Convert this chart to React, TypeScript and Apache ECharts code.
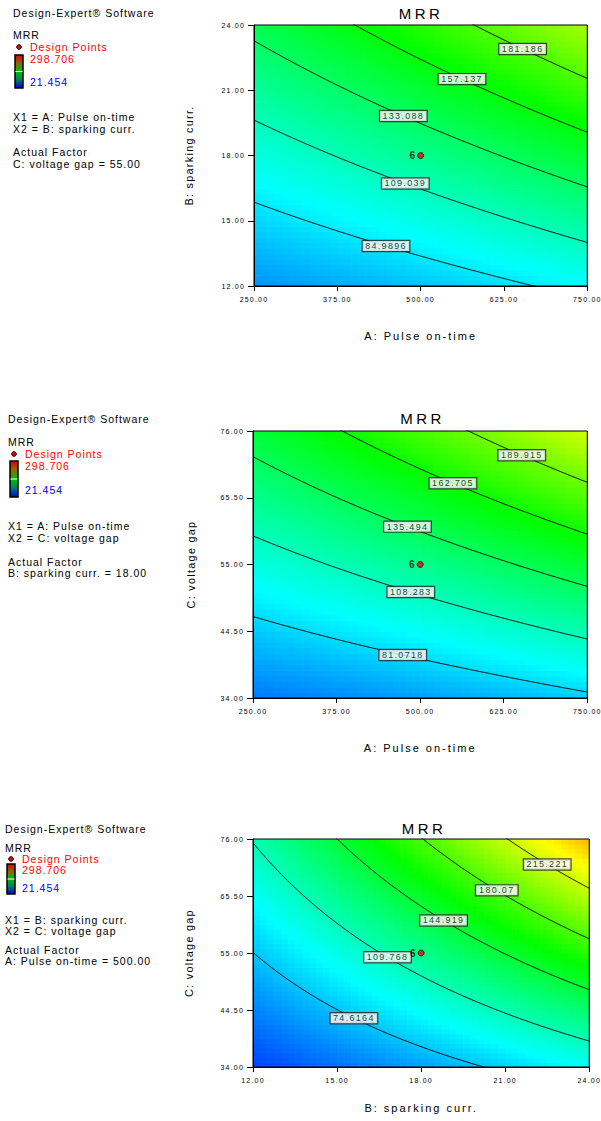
import React, { useEffect, useRef } from "react";
import * as echarts from "echarts";

const FONT = "'Liberation Sans', Arial, Helvetica, sans-serif";

const RESPONSE = "MRR";
const RESPONSE_MIN = 21.454;
const RESPONSE_MAX = 298.706;

const FACTOR_LABELS = ["A: Pulse on-time", "B: sparking curr.", "C: voltage gap"];
const FACTOR_CENTER = [500, 18, 55];
const FACTOR_HALF = [250, 6, 21];
const TICKS_A = [250, 375, 500, 625, 750];
const TICKS_B = [12, 15, 18, 21, 24];
const TICKS_C = [34, 44.5, 55, 65.5, 76];
const TICKS = [TICKS_A, TICKS_B, TICKS_C];

// Quadratic model in coded factors; terms: 1, A, B, C, AB, AC, BC, A², B², C²
const MODEL_TERMS = ["1", "A", "B", "C", "AB", "AC", "BC", "A^2", "B^2", "C^2"];
const MODEL_COEFS = [121.275, 24.149, 47.9, 57.341, 9.558, 12.173, 21.455, 1.438, 1.054, 0.699];

const LEVELS_AB = [84.9896, 109.039, 133.088, 157.137, 181.186];
const LEVELS_AC = [81.0718, 108.283, 135.494, 162.705, 189.915];
const LEVELS_BC = [74.6164, 109.768, 144.919, 180.07, 215.221];

const LABEL_AT_AB = [448, 477, 474, 562, 653];
const LABEL_AT_AC = [474, 486, 481, 549, 652];
const LABEL_AT_BC = [15.6, 16.8, 18.8, 20.7, 22.5];

const CENTER_POINT = [500, 18, 55];
const CENTER_RUNS = 6;

const basis = (a: number, b: number, c: number) => [1, a, b, c, a * b, a * c, b * c, a * a, b * b, c * c];

function model(k: number[]) {
  const t = basis(k[0], k[1], k[2]);
  return t.reduce((s, x, i) => s + x * MODEL_COEFS[i], 0);
}
const toReal = (f: number, u: number) => FACTOR_CENTER[f] + FACTOR_HALF[f] * u;
const toCoded = (f: number, x: number) => (x - FACTOR_CENTER[f]) / FACTOR_HALF[f];

type Plot = {
  xf: number; yf: number; ff: number; levels: number[]; labelAt: number[];
  grid: { left: number; top: number; width: number; height: number };
  xNameGap: number; yNameGap: number; titleY: number;
};

const PLOTS: Plot[] = [
  { xf: 0, yf: 1, ff: 2, levels: LEVELS_AB, labelAt: LABEL_AT_AB, grid: { left: 254, top: 25, width: 334, height: 261 }, xNameGap: 44, yNameGap: 60, titleY: 13 },
  { xf: 0, yf: 2, ff: 1, levels: LEVELS_AC, labelAt: LABEL_AT_AC, grid: { left: 253, top: 431, width: 339, height: 267 }, xNameGap: 44, yNameGap: 57, titleY: 418 },
  { xf: 1, yf: 2, ff: 0, levels: LEVELS_BC, labelAt: LABEL_AT_BC, grid: { left: 253, top: 839, width: 342, height: 228 }, xNameGap: 35, yNameGap: 59, titleY: 828 },
];

function evalPlot(p: Plot, u: number, v: number) {
  const k = [0, 0, 0];
  k[p.xf] = u;
  k[p.yf] = v;
  k[p.ff] = toCoded(p.ff, CENTER_POINT[p.ff]);
  return model(k);
}

// y (coded) where the surface meets level L at coded x = u
function solveV(p: Plot, u: number, L: number, prev: number | null): number | null {
  const f0 = evalPlot(p, u, 0), f1 = evalPlot(p, u, 1), fm = evalPlot(p, u, -1);
  const A2 = (f1 + fm) / 2 - f0, A1 = (f1 - fm) / 2, A0 = f0 - L;
  let roots: number[];
  if (Math.abs(A2) < 1e-9) roots = [-A0 / A1];
  else {
    const d = A1 * A1 - 4 * A2 * A0;
    if (d < 0) return null;
    const s = Math.sqrt(d);
    roots = [(-A1 + s) / (2 * A2), (-A1 - s) / (2 * A2)];
  }
  roots = roots.filter((r) => r >= -1.15 && r <= 1.15);
  if (!roots.length) return null;
  const ref = prev == null ? 0 : prev;
  roots.sort((x, y) => Math.abs(x - ref) - Math.abs(y - ref));
  return roots[0];
}

function contourSegments(p: Plot, L: number): number[][][] {
  const segs: number[][][] = [];
  let cur: number[][] = [];
  let prev: number | null = null;
  const S = 400;
  for (let i = 0; i <= S; i++) {
    const u = -1 + (2 * i) / S;
    const v = solveV(p, u, L, prev);
    if (v == null) {
      if (cur.length > 1) segs.push(cur);
      cur = [];
      prev = null;
    } else {
      cur.push([toReal(p.xf, u), toReal(p.yf, v)]);
      prev = v;
    }
  }
  if (cur.length > 1) segs.push(cur);
  return segs;
}

const N_CELLS = 48;

function buildOption() {
  const heat: any[] = [];
  const lines: any[] = [];
  const labels: any[] = [];
  const points: any[] = [];
  const xAxes: any[] = [];
  const yAxes: any[] = [];
  const grids: any[] = [];
  const graphics: any[] = [];

  PLOTS.forEach((p, i) => {
    grids.push({ ...p.grid, show: true, borderColor: "#000", borderWidth: 1, backgroundColor: "rgba(0,0,0,0)", z: 10 });
    const tx = TICKS[p.xf], ty = TICKS[p.yf];
    const axisBase = {
      gridIndex: i, type: "value", z: 10,
      axisLine: { show: true, lineStyle: { color: "#000", width: 1 } },
      axisTick: { show: true, length: 5, lineStyle: { color: "#000" } },
      splitLine: { show: false },
      nameLocation: "middle",
    };
    xAxes.push({
      ...axisBase, min: tx[0], max: tx[tx.length - 1], interval: tx[1] - tx[0],
      name: FACTOR_LABELS[p.xf], nameGap: p.xNameGap,
      nameTextStyle: { fontSize: 11, color: "#000", fontFamily: FONT },
      axisLabel: { fontSize: 7, color: "#000", margin: 10, fontFamily: FONT, formatter: (v: number) => v.toFixed(2) },
    });
    yAxes.push({
      ...axisBase, min: ty[0], max: ty[ty.length - 1], interval: ty[1] - ty[0],
      name: FACTOR_LABELS[p.yf], nameGap: p.yNameGap,
      nameTextStyle: { fontSize: 10.8, color: "#000", fontFamily: FONT },
      axisTick: { show: true, length: 6, lineStyle: { color: "#000" } },
      axisLabel: { fontSize: 7, color: "#000", margin: 9, fontFamily: FONT, formatter: (v: number) => v.toFixed(2) },
    });

    const cells: number[][] = [];
    for (let ix = 0; ix < N_CELLS; ix++) {
      for (let iy = 0; iy < N_CELLS; iy++) {
        const u = -1 + ((ix + 0.5) * 2) / N_CELLS;
        const v = -1 + ((iy + 0.5) * 2) / N_CELLS;
        cells.push([toReal(p.xf, u), toReal(p.yf, v), evalPlot(p, u, v)]);
      }
    }
    const hx = FACTOR_HALF[p.xf] / N_CELLS, hy = FACTOR_HALF[p.yf] / N_CELLS;
    heat.push({
      type: "custom", xAxisIndex: i, yAxisIndex: i, data: cells, encode: { x: 0, y: 1 },
      clip: true, silent: true, z: 1,
      renderItem: (_params: any, api: any) => {
        const x = api.value(0), y = api.value(1);
        const p0 = api.coord([x - hx, y + hy]);
        const p1 = api.coord([x + hx, y - hy]);
        return {
          type: "rect",
          shape: { x: p0[0], y: p0[1], width: p1[0] - p0[0] + 0.7, height: p1[1] - p0[1] + 0.7 },
          style: { fill: api.visual("color") },
        };
      },
    });

    p.levels.forEach((L) => {
      contourSegments(p, L).forEach((seg) => {
        lines.push({
          type: "line", xAxisIndex: i, yAxisIndex: i, data: seg, showSymbol: false, symbol: "none",
          lineStyle: { color: "#000", width: 1 }, silent: true, z: 3, clip: true,
        });
      });
    });

    labels.push({
      type: "scatter", xAxisIndex: i, yAxisIndex: i, z: 5, symbolSize: 1, silent: true,
      itemStyle: { color: "rgba(0,0,0,0)" },
      data: p.levels.map((L, j) => {
        const u = toCoded(p.xf, p.labelAt[j]);
        const v = solveV(p, u, L, null);
        return [p.labelAt[j], toReal(p.yf, v == null ? 0 : v), L];
      }),
      label: {
        show: true, position: "inside", formatter: (q: any) => String(q.value[2]),
        color: "#000", fontSize: 9, fontFamily: FONT, lineHeight: 9,
        backgroundColor: "#fff", borderColor: "#222", borderWidth: 1.2, padding: [1, 7, 0, 7],
      },
    });

    points.push({
      type: "scatter", name: "Design Points", xAxisIndex: i, yAxisIndex: i, z: 6, silent: true,
      symbol: "circle", symbolSize: 6,
      itemStyle: { color: "#ff0000", borderColor: "#000", borderWidth: 1 },
      data: [[CENTER_POINT[p.xf], CENTER_POINT[p.yf]]],
      label: { show: true, position: "left", distance: 2, formatter: String(CENTER_RUNS), color: "#000", fontSize: 10, fontWeight: "bold", fontFamily: FONT },
    });

    graphics.push({
      type: "text", x: p.grid.left + p.grid.width / 2, y: p.titleY,
      style: { text: RESPONSE, fill: "#000", fontSize: 15, fontFamily: FONT, align: "center", verticalAlign: "middle" },
    });
  });

  // legend-style side panels
  const panels = [
    { x0: 13, ys: [13, 35, 47, 59, 55, 88, 82, 117, 129, 152, 164], x1: 0, x2: 1, fixed: 2 },
    { x0: 8, ys: [419, 442, 454, 466, 461, 497, 490, 526, 538, 562, 573], x1: 0, x2: 2, fixed: 1 },
    { x0: 5, ys: [829, 848, 859, 870, 864, 894, 888, 920, 931, 950, 961], x1: 1, x2: 2, fixed: 0 },
  ];
  const txt = (x: number, y: number, text: string, fill = "#000") => ({
    type: "text", x, y, style: { text, fill, fontSize: 10.5, fontFamily: FONT, align: "left", verticalAlign: "middle" },
  });
  panels.forEach((pn) => {
    const [yDE, yR, yDP, yMax, barTop, barBot, yMin, yX1, yX2, yAF, yFix] = pn.ys;
    const fixedVal = CENTER_POINT[pn.fixed].toFixed(2);
    graphics.push(txt(pn.x0, yDE, "Design-Expert® Software"));
    graphics.push(txt(pn.x0, yR, RESPONSE));
    graphics.push({ type: "circle", shape: { cx: pn.x0 + 6, cy: yDP, r: 2.3 }, style: { fill: "#ff0000", stroke: "#000", lineWidth: 1 } });
    graphics.push(txt(pn.x0 + 17, yDP, "Design Points", "#ff0000"));
    graphics.push(txt(pn.x0 + 17, yMax, RESPONSE_MAX.toFixed(3), "#ff0000"));
    graphics.push({
      type: "rect", shape: { x: pn.x0 + 2, y: barTop, width: 8, height: barBot - barTop },
      style: {
        fill: new echarts.graphic.LinearGradient(0, 0, 0, 1, [
          { offset: 0, color: "#e00000" }, { offset: 0.25, color: "#8a6a00" }, { offset: 0.5, color: "#00c000" },
          { offset: 0.75, color: "#00806a" }, { offset: 1, color: "#0000e0" },
        ]),
        stroke: "#000", lineWidth: 1.5,
      },
    });
    const mid = (barTop + barBot) / 2;
    graphics.push({ type: "line", shape: { x1: pn.x0 + 2.5, y1: mid, x2: pn.x0 + 9.5, y2: mid }, style: { stroke: "#fff", lineWidth: 1 } });
    graphics.push(txt(pn.x0 + 17, yMin, RESPONSE_MIN.toFixed(3), "#0000ff"));
    graphics.push(txt(pn.x0, yX1, "X1 = " + FACTOR_LABELS[pn.x1]));
    graphics.push(txt(pn.x0, yX2, "X2 = " + FACTOR_LABELS[pn.x2]));
    graphics.push(txt(pn.x0, yAF, "Actual Factor"));
    graphics.push(txt(pn.x0, yFix, FACTOR_LABELS[pn.fixed] + " = " + fixedVal));
  });

  return {
    animation: false,
    textStyle: { fontFamily: FONT },
    grid: grids,
    xAxis: xAxes,
    yAxis: yAxes,
    visualMap: {
      type: "continuous", show: false, min: RESPONSE_MIN, max: RESPONSE_MAX, dimension: 2, seriesIndex: [0, 1, 2],
      inRange: { color: ["#0000ff", "#00ffff", "#00ff00", "#ffff00", "#ff0000"] },
    },
    graphic: graphics,
    series: [...heat, ...lines, ...labels, ...points],
  };
}

// wide Design-Expert style lettering, keyed by font size
const SPACING: Record<string, number> = { "15": 3.5, "11": 2, "10.8": 1.3, "10.5": 1, "9": 1.3, "7": 1.2 };

function spaceText(root: HTMLElement) {
  root.querySelectorAll("text").forEach((t) => {
    const fs = parseFloat(getComputedStyle(t).fontSize);
    const s = SPACING[String(fs)];
    if (s) (t as SVGTextElement).style.letterSpacing = s + "px";
  });
}

export default function App() {
  const ref = useRef<HTMLDivElement>(null);
  useEffect(() => {
    const el = ref.current!;
    const chart = echarts.init(el, null, { renderer: "svg" });
    chart.setOption(buildOption() as any);
    const apply = () => spaceText(el);
    apply();
    chart.on("finished", apply);
    return () => chart.dispose();
  }, []);
  return (
    <div
      ref={ref}
      style={{ position: "absolute", left: 0, top: 0, width: 601, height: 1121, background: "#fff" }}
    />
  );
}
